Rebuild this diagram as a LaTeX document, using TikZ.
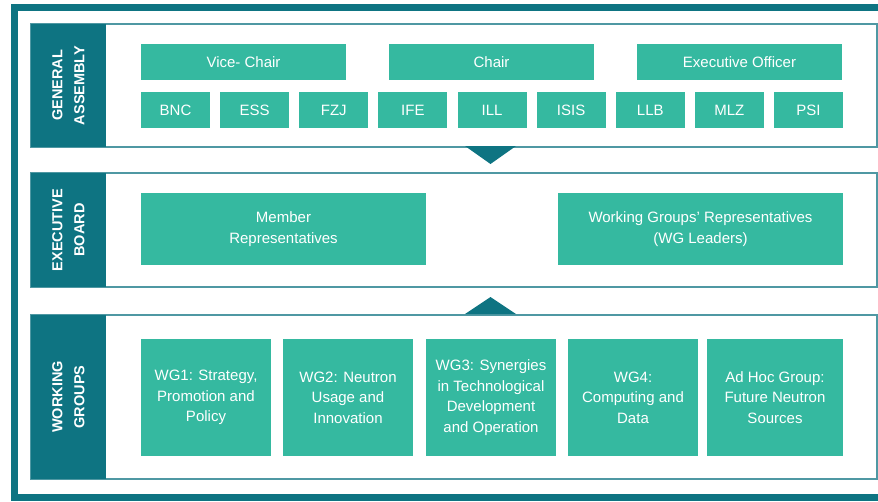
\documentclass[tikz,border=0pt]{standalone}
\usepackage{fontspec}
\setmainfont{Liberation Sans}
\usetikzlibrary{positioning}
\definecolor{darkteal}{HTML}{0E7482}
\definecolor{boxgreen}{HTML}{35B9A0}
\definecolor{linecol}{HTML}{4F98A3}
\tikzstyle{section} = [rectangle, draw=linecol, line width=1.2pt, fill=white, anchor=north west, inner sep=0pt, outer sep=0pt, minimum width=846pt]
\tikzstyle{sectionlabel} = [rectangle, fill=darkteal, text=white, rotate=90, inner sep=0pt, minimum height=75pt, align=center, font={\fontsize{14.5}{22}\selectfont\bfseries}]
\tikzstyle{module} = [rectangle, fill=boxgreen, text=white, anchor=north west, inner sep=0pt, outer sep=0pt, align=center, font={\fontsize{15}{20.5}\selectfont}]

\begin{document}
\begin{tikzpicture}[x=1pt, y=-1pt, node distance=10.125pt]
        \useasboundingbox (0,0) rectangle (878,501);
        \clip (0,0) rectangle (878,501);

        % outer frame
        \draw[darkteal, line width=7pt] (890,7) -- (14.5,7) -- (14.5,497) -- (890,497);

        % sections
        \node[section, minimum height=123pt] (gaframe) at (31,24) {};
        \node[section, minimum height=114pt] (ebframe) at (31,173) {};
        \node[section, minimum height=164pt] (wgframe) at (31,315) {};

        \node[sectionlabel, minimum width=123pt] (galabel) at (68.5,85.5) {GENERAL\\ASSEMBLY};
        \node[sectionlabel, minimum width=114pt] (eblabel) at (68.5,230) {EXECUTIVE\\BOARD};
        \node[sectionlabel, minimum width=164pt] (wglabel) at (68.5,397) {WORKING\\GROUPS};

        \fill[darkteal] (465,146) -- (516,146) -- (490.5,164) -- cycle;
        \fill[darkteal] (465,314) -- (516,314) -- (490.5,297) -- cycle;

        % general assembly
        \node[module, minimum width=205pt, minimum height=36pt] (vicechair) at (141,44) {Vice- Chair};
        \node[module, minimum width=205pt, minimum height=36pt, right=43pt of vicechair] (chair) {Chair};
        \node[module, minimum width=205pt, minimum height=36pt, right=43pt of chair] (execofficer) {Executive Officer};

        \node[module, minimum width=69pt, minimum height=36pt] (bnc) at (141,92) {BNC};
        \node[module, minimum width=69pt, minimum height=36pt, right=of bnc] (ess) {ESS};
        \node[module, minimum width=69pt, minimum height=36pt, right=of ess] (fzj) {FZJ};
        \node[module, minimum width=69pt, minimum height=36pt, right=of fzj] (ife) {IFE};
        \node[module, minimum width=69pt, minimum height=36pt, right=of ife] (ill) {ILL};
        \node[module, minimum width=69pt, minimum height=36pt, right=of ill] (isis) {ISIS};
        \node[module, minimum width=69pt, minimum height=36pt, right=of isis] (llb) {LLB};
        \node[module, minimum width=69pt, minimum height=36pt, right=of llb] (mlz) {MLZ};
        \node[module, minimum width=69pt, minimum height=36pt, right=of mlz] (psi) {PSI};

        % executive board
        \node[module, minimum width=285pt, minimum height=72pt] (memberrep) at (141,193) {Member\\Representatives};
        \node[module, minimum width=285pt, minimum height=72pt] (wgrep) at (558,193) {Working Groups' Representatives\\(WG Leaders)};

        % working groups
        \node[module, minimum width=130pt, minimum height=117pt] (wg1) at (141,339) {WG1: Strategy,\\Promotion and\\Policy};
        \node[module, minimum width=130pt, minimum height=117pt] (wg2) at (283,339) {WG2: Neutron\\Usage and\\Innovation};
        \node[module, minimum width=130pt, minimum height=117pt] (wg3) at (426,339) {WG3: Synergies\\in Technological\\Development\\and Operation};
        \node[module, minimum width=130pt, minimum height=117pt] (wg4) at (568,339) {WG4:\\Computing and\\Data};
        \node[module, minimum width=136pt, minimum height=117pt] (adhoc) at (707,339) {Ad Hoc Group:\\Future Neutron\\Sources};

    \end{tikzpicture}
\end{document}
